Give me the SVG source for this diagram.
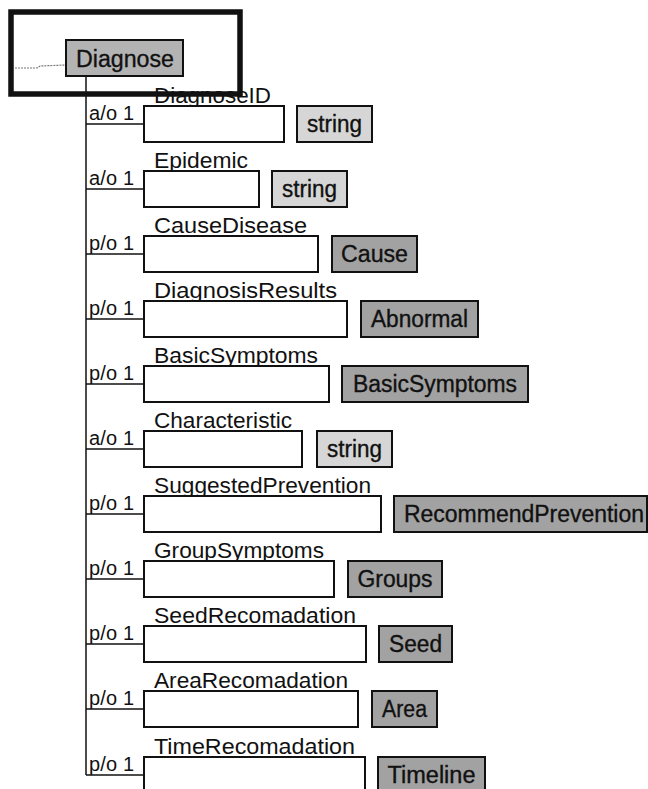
<svg xmlns="http://www.w3.org/2000/svg" width="648" height="789" viewBox="0 0 648 789">
  <style>
    text { font-family: "Liberation Sans", Arial, sans-serif; fill: #111; }
    .tag { font-size: 20px; }
    .fname { font-size: 22px; }
    .tname { font-size: 23px; text-anchor: middle; stroke: #111; stroke-width: 0.35; }
    .field { fill: #fff; stroke: #111; stroke-width: 2; }
    .tlight { fill: #d6d6d6; stroke: #111; stroke-width: 2; }
    .tdark { fill: #a2a2a2; stroke: #111; stroke-width: 2; }
    .root { fill: #b3b3b3; stroke: #111; stroke-width: 2; }
    .wire { fill: none; stroke: #111; stroke-width: 1.5; }
  </style>
  <rect width="648" height="789" fill="#fff"/>

  <!-- connectors: trunk and branches -->
  <g id="connectors" class="wire">
    <path d="M15 68 L37 68 L40 66 L66 65" stroke="#777" stroke-width="1.2" stroke-dasharray="2 1"/>
    <line x1="86" y1="76" x2="86" y2="775"/>
    <line x1="86" y1="124" x2="144" y2="124"/>
    <line x1="86" y1="189" x2="144" y2="189"/>
    <line x1="86" y1="254" x2="144" y2="254"/>
    <line x1="86" y1="319" x2="144" y2="319"/>
    <line x1="86" y1="384" x2="144" y2="384"/>
    <line x1="86" y1="449" x2="144" y2="449"/>
    <line x1="86" y1="514" x2="144" y2="514"/>
    <line x1="86" y1="579" x2="144" y2="579"/>
    <line x1="86" y1="644" x2="144" y2="644"/>
    <line x1="86" y1="709" x2="144" y2="709"/>
    <line x1="86" y1="775" x2="144" y2="775"/>
  </g>

  <!-- root element -->
  <g id="diagnose">
    <rect class="root" x="66" y="40" width="117" height="36"/>
    <text class="tname" x="125" y="67" textLength="98" lengthAdjust="spacingAndGlyphs">Diagnose</text>
  </g>

  <g id="row-diagnoseid">
    <text class="tag" x="89" y="120" textLength="45" lengthAdjust="spacing">a/o 1</text>
    <text class="fname" x="154" y="103" textLength="117" lengthAdjust="spacingAndGlyphs">DiagnoseID</text>
    <rect class="field" x="144" y="106" width="140" height="36"/>
    <rect class="tlight" x="297" y="106" width="75" height="36"/>
    <text class="tname" x="334.5" y="132" textLength="55" lengthAdjust="spacingAndGlyphs">string</text>
  </g>

  <g id="row-epidemic">
    <text class="tag" x="89" y="185" textLength="45" lengthAdjust="spacing">a/o 1</text>
    <text class="fname" x="154" y="168" textLength="94" lengthAdjust="spacingAndGlyphs">Epidemic</text>
    <rect class="field" x="144" y="171" width="115" height="36"/>
    <rect class="tlight" x="272" y="171" width="75" height="36"/>
    <text class="tname" x="309.5" y="197" textLength="55" lengthAdjust="spacingAndGlyphs">string</text>
  </g>

  <g id="row-causedisease">
    <text class="tag" x="89" y="250" textLength="45" lengthAdjust="spacing">p/o 1</text>
    <text class="fname" x="154" y="233" textLength="153" lengthAdjust="spacingAndGlyphs">CauseDisease</text>
    <rect class="field" x="144" y="236" width="174" height="36"/>
    <rect class="tdark" x="332" y="236" width="85" height="36"/>
    <text class="tname" x="374.5" y="262" textLength="67" lengthAdjust="spacingAndGlyphs">Cause</text>
  </g>

  <g id="row-diagnosisresults">
    <text class="tag" x="89" y="315" textLength="45" lengthAdjust="spacing">p/o 1</text>
    <text class="fname" x="154" y="298" textLength="183" lengthAdjust="spacingAndGlyphs">DiagnosisResults</text>
    <rect class="field" x="144" y="301" width="203" height="36"/>
    <rect class="tdark" x="361" y="301" width="117" height="36"/>
    <text class="tname" x="419.5" y="327" textLength="97" lengthAdjust="spacingAndGlyphs">Abnormal</text>
  </g>

  <g id="row-basicsymptoms">
    <text class="tag" x="89" y="380" textLength="45" lengthAdjust="spacing">p/o 1</text>
    <text class="fname" x="154" y="363" textLength="164" lengthAdjust="spacingAndGlyphs">BasicSymptoms</text>
    <rect class="field" x="144" y="366" width="185" height="36"/>
    <rect class="tdark" x="342" y="366" width="186" height="36"/>
    <text class="tname" x="435" y="392" textLength="164" lengthAdjust="spacingAndGlyphs">BasicSymptoms</text>
  </g>

  <g id="row-characteristic">
    <text class="tag" x="89" y="445" textLength="45" lengthAdjust="spacing">a/o 1</text>
    <text class="fname" x="154" y="428" textLength="138" lengthAdjust="spacingAndGlyphs">Characteristic</text>
    <rect class="field" x="144" y="431" width="158" height="36"/>
    <rect class="tlight" x="317" y="431" width="75" height="36"/>
    <text class="tname" x="354.5" y="457" textLength="55" lengthAdjust="spacingAndGlyphs">string</text>
  </g>

  <g id="row-suggestedprevention">
    <text class="tag" x="89" y="510" textLength="45" lengthAdjust="spacing">p/o 1</text>
    <text class="fname" x="154" y="493" textLength="217" lengthAdjust="spacingAndGlyphs">SuggestedPrevention</text>
    <rect class="field" x="144" y="496" width="237" height="36"/>
    <rect class="tdark" x="394" y="496" width="253" height="36"/>
    <text class="tname" x="524" y="522" textLength="240" lengthAdjust="spacingAndGlyphs">RecommendPrevention</text>
  </g>

  <g id="row-groupsymptoms">
    <text class="tag" x="89" y="575" textLength="45" lengthAdjust="spacing">p/o 1</text>
    <text class="fname" x="154" y="558" textLength="170" lengthAdjust="spacingAndGlyphs">GroupSymptoms</text>
    <rect class="field" x="144" y="561" width="190" height="36"/>
    <rect class="tdark" x="348" y="561" width="94" height="36"/>
    <text class="tname" x="395" y="587" textLength="75" lengthAdjust="spacingAndGlyphs">Groups</text>
  </g>

  <g id="row-seedrecomadation">
    <text class="tag" x="89" y="640" textLength="45" lengthAdjust="spacing">p/o 1</text>
    <text class="fname" x="154" y="623" textLength="202" lengthAdjust="spacingAndGlyphs">SeedRecomadation</text>
    <rect class="field" x="144" y="626" width="222" height="36"/>
    <rect class="tdark" x="379" y="626" width="73" height="36"/>
    <text class="tname" x="415.5" y="652" textLength="53" lengthAdjust="spacingAndGlyphs">Seed</text>
  </g>

  <g id="row-arearecomadation">
    <text class="tag" x="89" y="705" textLength="45" lengthAdjust="spacing">p/o 1</text>
    <text class="fname" x="154" y="688" textLength="194" lengthAdjust="spacingAndGlyphs">AreaRecomadation</text>
    <rect class="field" x="144" y="691" width="214" height="36"/>
    <rect class="tdark" x="372" y="691" width="65" height="36"/>
    <text class="tname" x="404.5" y="717" textLength="45" lengthAdjust="spacingAndGlyphs">Area</text>
  </g>

  <g id="row-timerecomadation">
    <text class="tag" x="89" y="771" textLength="45" lengthAdjust="spacing">p/o 1</text>
    <text class="fname" x="154" y="754" textLength="201" lengthAdjust="spacingAndGlyphs">TimeRecomadation</text>
    <rect class="field" x="144" y="757" width="221" height="36"/>
    <rect class="tdark" x="378" y="757" width="107" height="36"/>
    <text class="tname" x="431.5" y="783" textLength="88" lengthAdjust="spacingAndGlyphs">Timeline</text>
  </g>

  <!-- selection frame around the root -->
  <g id="selection">
    <rect x="11" y="12" width="229" height="82" fill="none" stroke="#111" stroke-width="5.5"/>
  </g>
</svg>
